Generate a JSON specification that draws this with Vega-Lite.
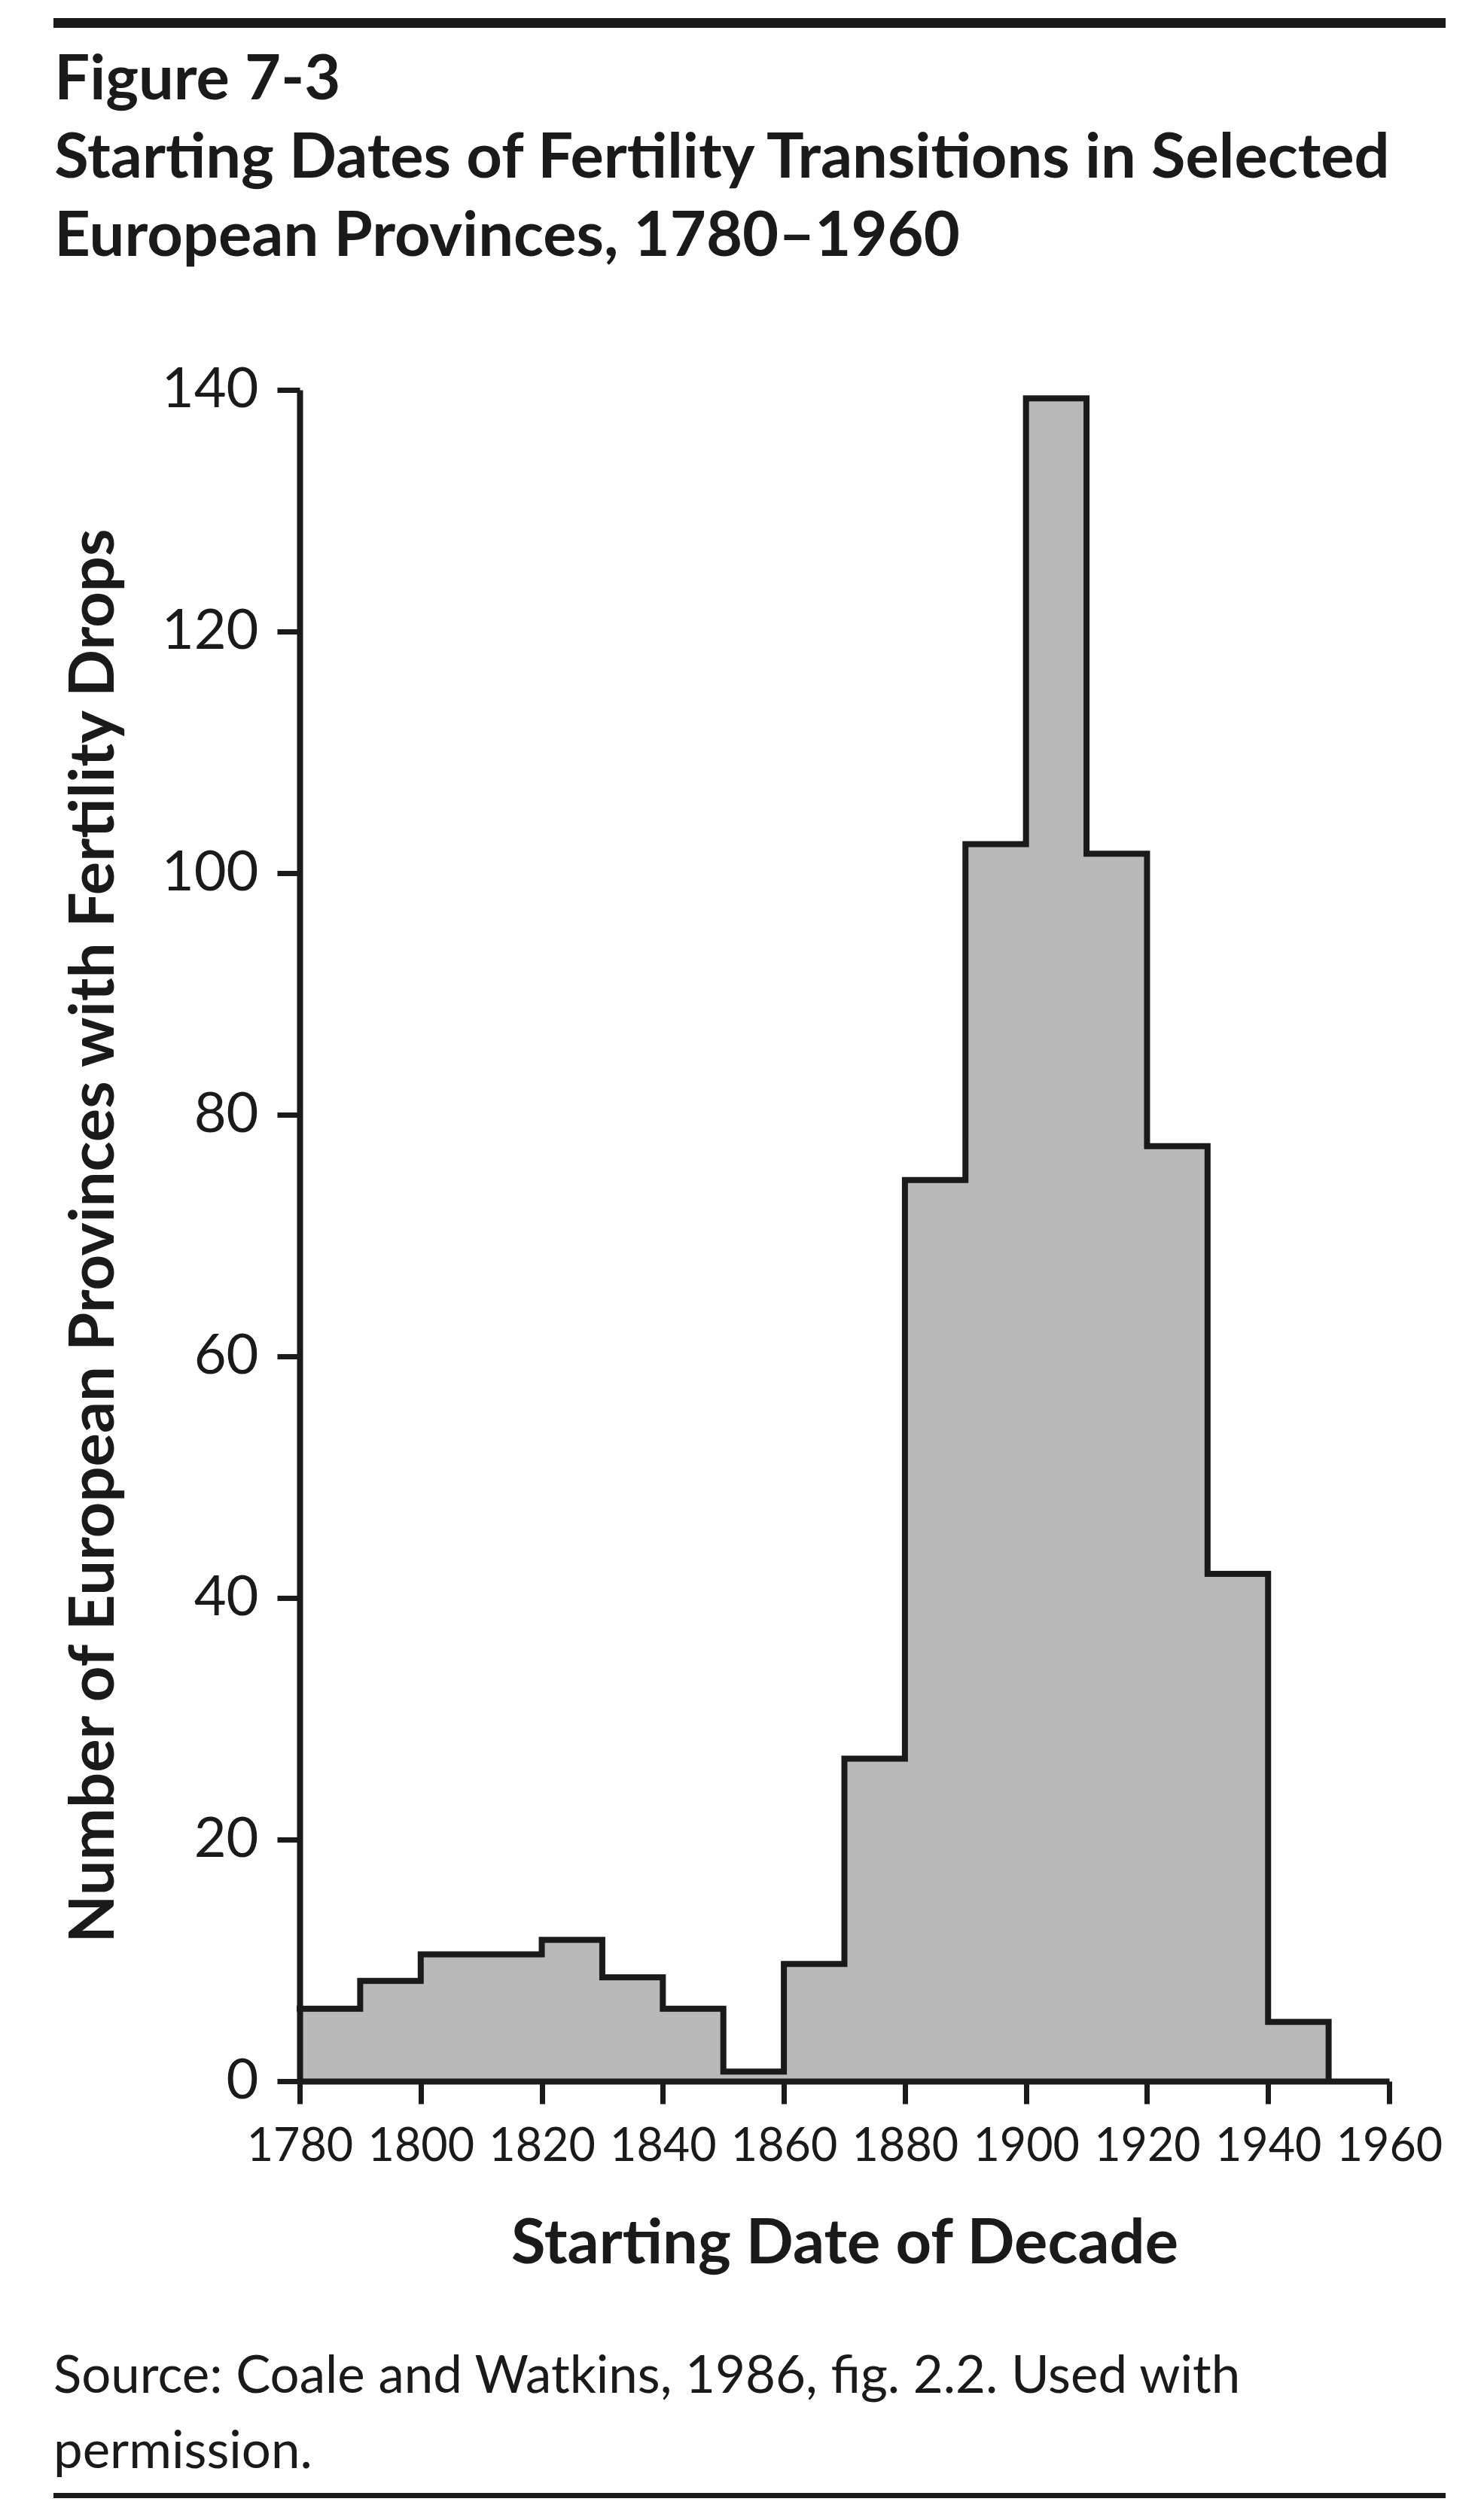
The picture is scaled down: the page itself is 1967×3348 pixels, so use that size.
{
  "$schema": "https://vega.github.io/schema/vega-lite/v6.json",
  "background": "white",
  "padding": {"left": 71, "top": 24, "right": 10, "bottom": 10},
  "config": {
    "font": "Lato",
    "view": {"stroke": null},
    "title": {"color": "#1a1a1a"}
  },
  "columns": 1,
  "spacing": 29,
  "concat": [
    {
      "width": 1849,
      "height": 13,
      "view": {"fill": "#1a1a1a", "stroke": null},
      "data": {"values": [{}]},
      "mark": {"type": "point", "size": 0, "opacity": 0},
      "encoding": {}
    },
    {
      "columns": 1,
      "spacing": 101,
      "concat": [
        {
          "spacing": 0,
          "hconcat": [
            {
              "width": 1,
              "height": 1,
              "data": {"values": [{}]},
              "mark": {"type": "point", "size": 0, "opacity": 0},
              "encoding": {}
            },
            {
              "width": 1447,
              "height": 2247,
              "title": {
                "text": ["Figure 7-3", "Starting Dates of Fertility Transitions in Selected", "European Provinces, 1780–1960"],
                "anchor": "start",
                "frame": "bounds",
                "fontSize": 83,
                "fontWeight": "bold",
                "lineHeight": 104,
                "offset": 124,
                "dx": -12,
                "color": "#1a1a1a"
              },
              "data": {
                "values": [
                  {"decade": 1780, "provinces": 6.0},
                  {"decade": 1790, "provinces": 8.3},
                  {"decade": 1800, "provinces": 10.5},
                  {"decade": 1810, "provinces": 10.5},
                  {"decade": 1820, "provinces": 11.7},
                  {"decade": 1830, "provinces": 8.6},
                  {"decade": 1840, "provinces": 6.0},
                  {"decade": 1850, "provinces": 0.8},
                  {"decade": 1860, "provinces": 9.7},
                  {"decade": 1870, "provinces": 26.7},
                  {"decade": 1880, "provinces": 74.6},
                  {"decade": 1890, "provinces": 102.4},
                  {"decade": 1900, "provinces": 139.3},
                  {"decade": 1910, "provinces": 101.6},
                  {"decade": 1920, "provinces": 77.4},
                  {"decade": 1930, "provinces": 42.0},
                  {"decade": 1940, "provinces": 4.9},
                  {"decade": 1950, "provinces": 0}
                ]
              },
              "encoding": {
                "x": {
                  "field": "decade",
                  "type": "quantitative",
                  "scale": {"domain": [1780, 1960], "nice": false, "zero": false},
                  "axis": {
                    "values": [1780, 1800, 1820, 1840, 1860, 1880, 1900, 1920, 1940, 1960],
                    "format": "d",
                    "labelFontSize": 61,
                    "labelColor": "#1a1a1a",
                    "labelPadding": 27,
                    "labelFlush": false,
                    "labelOverlap": false,
                    "tickSize": 30,
                    "tickWidth": 7,
                    "tickColor": "#1a1a1a",
                    "domainColor": "#1a1a1a",
                    "domainWidth": 8,
                    "grid": false,
                    "title": "Starting Date of Decade",
                    "titleFontSize": 83,
                    "titleFontWeight": "bold",
                    "titleColor": "#1a1a1a",
                    "titlePadding": 58,
                    "zindex": 1
                  }
                },
                "y": {
                  "field": "provinces",
                  "type": "quantitative",
                  "scale": {"domain": [0, 140], "nice": false},
                  "axis": {
                    "values": [0, 20, 40, 60, 80, 100, 120, 140],
                    "labelFontSize": 74,
                    "labelColor": "#1a1a1a",
                    "labelPadding": 25,
                    "labelFlush": false,
                    "labelOverlap": false,
                    "tickSize": 30,
                    "tickWidth": 7,
                    "tickColor": "#1a1a1a",
                    "domainColor": "#1a1a1a",
                    "domainWidth": 8,
                    "grid": false,
                    "title": "Number of European Provinces with Fertility Drops",
                    "titleFontSize": 83,
                    "titleFontWeight": "bold",
                    "titleColor": "#1a1a1a",
                    "titlePadding": 47,
                    "zindex": 1
                  }
                }
              },
              "layer": [
                {"mark": {"type": "area", "interpolate": "step-after", "fill": "#b9b9b9"}},
                {"mark": {"type": "line", "interpolate": "step-after", "stroke": "#1a1a1a", "strokeWidth": 8, "strokeJoin": "miter", "strokeCap": "square"}}
              ]
            }
          ]
        },
        {
          "width": 1849,
          "height": 7,
          "view": {"fill": "#1a1a1a", "stroke": null},
          "data": {"values": [{}]},
          "mark": {"type": "point", "size": 0, "opacity": 0},
          "encoding": {},
          "title": {
            "text": ["Source: Coale and Watkins, 1986, fig. 2.2. Used with", "permission."],
            "anchor": "start",
            "frame": "group",
            "fontSize": 69,
            "fontWeight": "normal",
            "lineHeight": 100,
            "offset": 19,
            "color": "#1a1a1a"
          }
        }
      ]
    }
  ]
}
